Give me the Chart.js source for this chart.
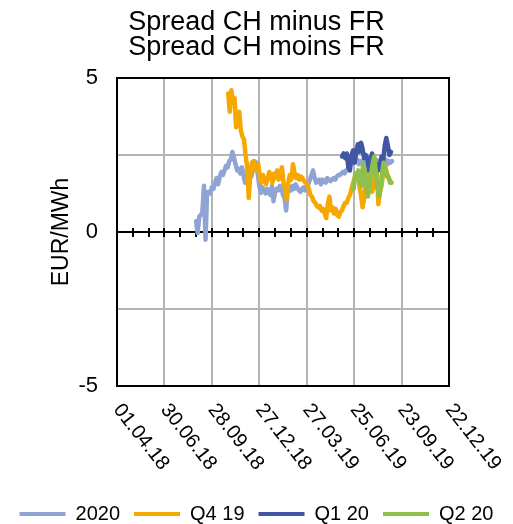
<!DOCTYPE html>
<html>
<head>
<meta charset="utf-8">
<script src="https://cdn.jsdelivr.net/npm/chart.js@4/dist/chart.umd.min.js"></script>
<style>
  html, body { margin: 0; padding: 0; background: #fff; }
</style>
</head>
<body>
<canvas id="spreadChart" width="513" height="524"></canvas>
<script>
// x values are days counted from 01.04.18, one value every 3 days
var tickLabels = ["01.04.18", "30.06.18", "28.09.18", "27.12.18", "27.03.19", "25.06.19", "23.09.19", "22.12.19"];
var seriesNames = ["2020", "Q4 19", "Q1 20", "Q2 20"];
var seriesColors = ["#8fa4d3", "#f7a800", "#4257a4", "#8dc14b"];
var dayStep = 3;

var start2020 = 150;
var values2020 = [0.35, -0.03, 0.5, 0.55, 0.65, 1.5, -0.25, 1.3, 1.3, 1.25, 1.45, 1.4, 1.6, 1.75, 1.55, 1.8,
  1.95, 1.85, 2.0, 2.15, 2.1, 2.3, 2.35, 2.6, 2.4, 2.2, 2.0, 2.05, 1.9, 2.1, 1.85, 1.6, 1.8, 2.0, 1.95,
  1.8, 2.05, 2.3, 2.25, 1.9, 1.5, 1.27, 1.45, 1.35, 1.25, 1.4, 1.3, 1.2, 1.5, 1.0, 1.3, 1.4, 1.35, 1.5,
  1.45, 1.2, 1.1, 0.7, 1.4, 1.45, 1.35, 1.5, 1.4, 1.55, 1.45, 1.35, 1.3, 1.4, 1.45, 1.35, 1.5, 1.55, 1.7,
  1.85, 2.0, 1.75, 1.6, 1.65, 1.7, 1.55, 1.7, 1.65, 1.6, 1.75, 1.7, 1.65, 1.7, 1.75, 1.7, 1.8, 1.85, 1.85,
  1.9, 1.95, 1.9, 2.0, 2.05, 2.1, 2.2, 2.3, 2.4, 2.3, 2.35, 2.2, 2.3, 2.25, 2.35, 2.2, 2.3, 2.15, 2.25,
  2.1, 2.3, 2.2, 2.35, 2.25, 2.3, 2.2, 2.4, 2.3, 2.35, 2.2, 2.3, 2.25, 2.3];

var startQ419 = 211;
var valuesQ419 = [4.5, 3.9, 4.6, 4.2, 4.35, 3.4, 3.8, 3.9, 3.3, 3.1, 3.0, 2.5, 2.1, 1.1, 1.9, 2.25, 2.3,
  2.0, 2.1, 2.2, 1.8, 1.6, 1.85, 1.7, 1.55, 1.75, 1.95, 1.8, 1.6, 1.9, 1.75, 2.0, 1.7, 1.85, 2.1, 1.6,
  1.4, 1.05, 1.6, 1.85, 1.7, 2.2, 1.9, 1.75, 1.85, 1.7, 1.8, 1.75, 1.65, 1.6, 1.55, 1.4, 1.2, 1.15, 1.0,
  0.95, 0.85, 0.8, 0.85, 0.7, 0.75, 0.6, 0.45, 0.9, 1.15, 0.7, 0.8, 0.6, 0.75, 0.55, 0.5, 0.65, 0.7,
  0.85, 0.95, 0.95, 1.1, 1.2, 1.4, 1.6, 1.75, 1.9, 1.8, 1.5, 1.2, 0.8, 1.1, 1.6, 1.9, 2.0, 1.6, 1.3,
  1.5, 2.1, 1.9, 0.9, 1.3, 1.5, 1.9, 2.2, 2.0, 1.8, 1.7, 1.6];

var startQ120 = 427;
var valuesQ120 = [2.45, 2.55, 2.4, 2.55, 2.1, 2.0, 2.5, 2.65, 2.25, 2.6, 2.85, 2.6, 2.9, 2.7, 2.4, 2.5,
  2.4, 2.0, 2.3, 2.55, 2.3, 2.1, 2.2, 2.0, 2.2, 2.45, 2.3, 2.8, 3.05, 2.8, 2.5, 2.6];

var startQ220 = 449;
var valuesQ220 = [1.4, 1.9, 1.75, 2.0, 1.6, 1.5, 2.2, 1.9, 1.55, 1.15, 1.5, 1.9, 2.2, 2.45, 2.0, 1.5,
  1.15, 1.4, 1.9, 2.25, 2.0, 1.8, 1.8, 1.6, 1.6];

function toPoints(start, values) {
  return values.map(function (v, i) { return { x: start + i * dayStep, y: v }; });
}

var seriesData = [
  toPoints(start2020, values2020),
  toPoints(startQ419, valuesQ419),
  toPoints(startQ120, valuesQ120),
  toPoints(startQ220, valuesQ220)
];

// rotated date labels hang down to the right of their tick, like in Excel
class DateAxis extends Chart.LinearScale {
  _getXAxisLabelAlignment() { return 'left'; }
}
DateAxis.id = 'dateAxis';
DateAxis.defaults = Chart.LinearScale.defaults;
Chart.register(DateAxis);

Chart.defaults.font.family = "'Liberation Sans', Arial, sans-serif";
Chart.defaults.color = '#000';

var gridGrey = '#b4b4b4';
var xAxisHeight = 104;

var plotBorder = {
  id: 'plotBorder',
  beforeDatasetsDraw: function (chart) {
    var ctx = chart.ctx, a = chart.chartArea;
    ctx.save();
    ctx.strokeStyle = '#000';
    ctx.lineWidth = 2;
    ctx.strokeRect(a.left, a.top, a.right - a.left, a.bottom - a.top);
    ctx.restore();
  }
};

var datasets = seriesNames.map(function (name, i) {
  return {
    label: name,
    data: seriesData[i],
    borderColor: seriesColors[i],
    backgroundColor: seriesColors[i],
    borderWidth: 4.5,
    pointRadius: 0,
    tension: 0,
    borderJoinStyle: 'round',
    borderCapStyle: 'round',
    order: seriesNames.length - i
  };
});

var spreadChart = new Chart(document.getElementById('spreadChart'), {
  type: 'line',
  data: { datasets: datasets },
  options: {
    responsive: false,
    animation: false,
    devicePixelRatio: 1,
    events: [],
    layout: { padding: { left: 0, right: 0, top: 0, bottom: -10 } },
    scales: {
      x: {
        type: 'dateAxis',
        min: 0,
        max: 630,
        ticks: {
          stepSize: 90,
          autoSkip: false,
          minRotation: -52,
          maxRotation: -52,
          padding: 19,
          font: { size: 20, lineHeight: 0.2 },
          callback: function (value) { return tickLabels[Math.round(value / 90)]; }
        },
        grid: { color: gridGrey, lineWidth: 2, drawTicks: false },
        border: { display: false },
        afterFit: function (s) {
          s.height = xAxisHeight;
          s.paddingLeft = 0;
          s.paddingRight = 64;
        }
      },
      // small tick marks crossing the zero line, every 30 days
      xTickDown: {
        type: 'linear', axis: 'x', position: { y: 0 },
        min: 0, max: 630,
        ticks: { stepSize: 30, display: false },
        grid: { drawOnChartArea: false, color: '#000', lineWidth: 2, tickLength: 4 },
        border: { display: true, color: '#000', width: 2 }
      },
      xTickUp: {
        type: 'linear', axis: 'x', position: { y: 0 },
        min: 0, max: 630,
        ticks: { stepSize: 30, display: false },
        grid: { drawOnChartArea: false, color: '#000', lineWidth: 2, tickLength: -4 },
        border: { display: false }
      },
      y: {
        min: -5,
        max: 5,
        ticks: {
          stepSize: 2.5,
          padding: 19,
          font: { size: 22 },
          callback: function (value) { return value % 5 === 0 ? String(value) : ''; }
        },
        grid: {
          color: function (c) { return c.tick && c.tick.value === 0 ? '#000' : gridGrey; },
          lineWidth: 2,
          drawTicks: false
        },
        border: { display: false },
        title: { display: true, text: 'EUR/MWh', font: { size: 23 }, padding: { top: 48, bottom: 0 } },
        afterFit: function (s) { s.width = 117; }
      }
    },
    plugins: {
      title: {
        display: true,
        text: ['Spread CH minus FR', 'Spread CH moins FR'],
        font: { size: 27, weight: 'normal', lineHeight: '25px' },
        color: '#000',
        padding: { top: 10, bottom: 18 }
      },
      legend: {
        position: 'bottom',
        labels: {
          font: { size: 20 },
          boxWidth: 46,
          boxHeight: 4,
          padding: 14,
          color: '#000',
          sort: function (a, b) { return a.datasetIndex - b.datasetIndex; },
          generateLabels: function (chart) {
            return Chart.defaults.plugins.legend.labels.generateLabels(chart).map(function (l) {
              l.lineWidth = 0;
              return l;
            });
          }
        }
      },
      tooltip: { enabled: false }
    }
  },
  plugins: [plotBorder]
});
</script>
</body>
</html>
